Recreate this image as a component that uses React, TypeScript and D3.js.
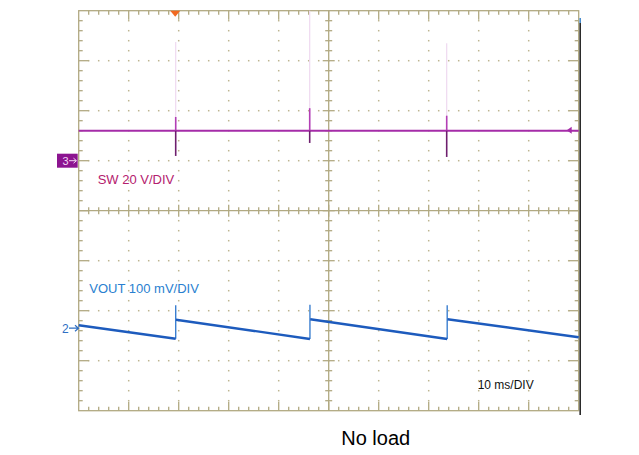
import React from "react";
import * as d3 from "d3";

// ---- data ----
// time axis: 10 ms/div, 10 divisions
const timeDomain = [0, 100];
// vertical: 8 divisions
const divDomain = [-4, 4];

// Channel 3 (SW), 20 V/div, ground marker at +1 div
const swOffsetDiv = 1;
const swVoltsPerDiv = 20;
const swBaseline = 12; // V
const swSpikeTime = [19.4, 46.2, 73.6];
const swSpikeHigh = [17.5, 21, 18];
const swSpikeLow = [1.9, 7.1, 1.5];
const swFaintHigh = [47.5, 60, 47];

// Channel 2 (VOUT), 100 mV/div, ground marker at -2.35 div
const voutOffsetDiv = -2.35;
const voutMvPerDiv = 100;
// ramp segments: [start time, start mV, end time, end mV]
const rampStartT = [0, 19.45, 46.3, 73.75];
const rampStartMv = [6, 17, 18, 18];
const rampEndT = [19.4, 46.25, 73.7, 100];
const rampEndMv = [-21, -21.5, -21.5, -18];
const jumpTime = [19.4, 46.25, 73.7];
const jumpPeakMv = [46, 47, 46];

const W = 639;
const H = 455;

const gridColor = "#b1a982";
const dotColor = "#bdb591";

export default function App() {
  const x = d3.scaleLinear().domain(timeDomain).range([78.7, 578.7]);
  const y = d3.scaleLinear().domain(divDomain).range([410.7, 10.7]);
  const ySW = (v: number) => y(swOffsetDiv + v / swVoltsPerDiv);
  const yV = (mv: number) => y(voutOffsetDiv + mv / voutMvPerDiv);

  const x0 = x(0), x1 = x(100), y0 = y(4), y1 = y(-4);
  const xc = x(50), yc = y(0);

  const minorX = d3.range(0, 100.001, 2); // every 1/5 div
  const minorY = d3.range(-4, 4.001, 0.2);
  const majorX = d3.range(10, 91, 10);
  const majorY = d3.range(-3, 3.001, 1);

  const isMajorX = (t: number) => Math.abs(t / 10 - Math.round(t / 10)) < 1e-6;
  const isMajorY = (d: number) => Math.abs(d - Math.round(d)) < 1e-6;

  const elems: React.ReactNode[] = [];

  // dots along major grid lines
  majorY.forEach((d) => {
    if (d === 0) return;
    minorX.forEach((t) => {
      if (t === 0 || t === 100) return;
      elems.push(
        <rect key={`dh${d}_${t}`} x={x(t) - 0.75} y={y(d) - 0.75} width={1.5} height={1.5} fill={dotColor} />
      );
    });
  });
  majorX.forEach((t) => {
    if (t === 50) return;
    minorY.forEach((d) => {
      if (isMajorY(d)) return;
      elems.push(
        <rect key={`dv${t}_${d.toFixed(1)}`} x={x(t) - 0.75} y={y(d) - 0.75} width={1.5} height={1.5} fill={dotColor} />
      );
    });
  });

  // border ticks
  const ticks: React.ReactNode[] = [];
  minorX.forEach((t) => {
    if (t === 0 || t === 100) return;
    const L = isMajorX(t) ? 9 : 4;
    const Lc = isMajorX(t) ? 6 : 3.5;
    ticks.push(<line key={`tt${t}`} x1={x(t)} x2={x(t)} y1={y0} y2={y0 + L} />);
    ticks.push(<line key={`tb${t}`} x1={x(t)} x2={x(t)} y1={y1} y2={y1 - L} />);
    ticks.push(<line key={`tc${t}`} x1={x(t)} x2={x(t)} y1={yc - Lc} y2={yc + Lc} />);
  });
  minorY.forEach((d) => {
    if (Math.abs(d) > 3.99) return;
    const L = isMajorY(d) ? 10 : 4;
    const Lc = isMajorY(d) ? 6 : 3.5;
    ticks.push(<line key={`tl${d.toFixed(1)}`} x1={x0} x2={x0 + L} y1={y(d)} y2={y(d)} />);
    ticks.push(<line key={`tr${d.toFixed(1)}`} x1={x1} x2={x1 - L} y1={y(d)} y2={y(d)} />);
    ticks.push(<line key={`tcv${d.toFixed(1)}`} x1={xc - Lc} x2={xc + Lc} y1={y(d)} y2={y(d)} />);
  });

  // SW trace
  const swColor = "#a52ca8";
  const swLine = d3.line<[number, number]>().x((p) => x(p[0])).y((p) => ySW(p[1]));
  const swPath = swLine([[0, swBaseline], [100, swBaseline]]);

  // VOUT ramps
  const vLine = d3.line<[number, number]>().x((p) => x(p[0])).y((p) => yV(p[1]));

  const font = "'Liberation Sans', Arial, sans-serif";

  return (
    <svg width={W} height={H} style={{ position: "absolute", left: 0, top: 0, background: "#fff" }}>
      <rect x={0} y={0} width={W} height={H} fill="#fff" />
      {elems}
      {/* border and center lines */}
      <g stroke={gridColor} strokeWidth={1.3} fill="none">
        <rect x={x0} y={y0} width={x1 - x0} height={y1 - y0} />
        <line x1={x0} x2={x1} y1={yc} y2={yc} />
        <line x1={xc} x2={xc} y1={y0} y2={y1} />
        {ticks}
      </g>
      {/* right dark edge */}
      <line x1={x1 + 1.5} x2={x1 + 1.5} y1={23} y2={415} stroke="#2b2b2b" strokeWidth={1.6} />
      <line x1={x1 + 1.5} x2={x1 + 1.5} y1={18} y2={23} stroke="#4a8ed0" strokeWidth={1.6} />

      {/* trigger marker */}
      <path d={`M${x(19.3) - 5},${y0} L${x(19.3) + 5},${y0} L${x(19.3)},${y0 + 6} Z`} fill="#f26a22" />

      {/* SW faint spikes */}
      {swSpikeTime.map((t, i) => (
        <line key={`sf${i}`} x1={x(t)} x2={x(t)} y1={ySW(swFaintHigh[i])} y2={ySW(swBaseline)} stroke="#efd9f0" strokeWidth={1.2} />
      ))}
      <path d={swPath || ""} stroke={swColor} strokeWidth={2} fill="none" />
      {swSpikeTime.map((t, i) => (
        <g key={`ss${i}`}>
          <line x1={x(t)} x2={x(t)} y1={ySW(swSpikeHigh[i])} y2={ySW(swBaseline)} stroke="#b33fb5" strokeWidth={1.6} />
          <line x1={x(t)} x2={x(t)} y1={ySW(swBaseline)} y2={ySW(swSpikeLow[i])} stroke="#6e1f6e" strokeWidth={1.6} />
        </g>
      ))}
      {/* right-side SW arrow */}
      <path d={`M${x1 - 12},${ySW(swBaseline) - 0.5} l5,-3.5 l0,7 Z`} fill={swColor} />

      {/* ch3 marker */}
      <rect x={57} y={ySW(0) - 7} width={20.7} height={14} fill="#8c1490" />
      <text x={62.5} y={ySW(0) + 4} fill="#f3d7f3" fontFamily={font} fontSize={11}>3</text>
      <path d={`M69,${ySW(0)} L76,${ySW(0)} M73.5,${ySW(0) - 2.5} L76.5,${ySW(0)} L73.5,${ySW(0) + 2.5}`} stroke="#f3d7f3" strokeWidth={1} fill="none" />

      {/* VOUT trace */}
      {jumpTime.map((t, i) => (
        <line key={`vj${i}`} x1={x(t)} x2={x(t)} y1={yV(rampEndMv[i])} y2={yV(jumpPeakMv[i])} stroke="#3b7fd0" strokeWidth={1.4} />
      ))}
      {rampStartT.map((t, i) => (
        <path
          key={`vr${i}`}
          d={vLine([[t, rampStartMv[i]], [rampEndT[i], rampEndMv[i]]]) || ""}
          stroke="#1d5bbd"
          strokeWidth={2.4}
          fill="none"
        />
      ))}

      {/* ch2 marker */}
      <text x={62} y={yV(0) + 4.5} fill="#2f6fc4" fontFamily={font} fontSize={12}>2</text>
      <path d={`M69,${yV(0)} L78,${yV(0)} M75,${yV(0) - 3} L78.5,${yV(0)} L75,${yV(0) + 3}`} stroke="#2f6fc4" strokeWidth={1.2} fill="none" />

      {/* labels */}
      <text x={97.7} y={184} fill="#b4206e" fontFamily={font} fontSize={13}>SW 20 V/DIV</text>
      <text x={89.3} y={293.3} fill="#2a7fd0" fontFamily={font} fontSize={13}>VOUT 100 mV/DIV</text>
      <text x={477.7} y={389} fill="#111" fontFamily={font} fontSize={12}>10 ms/DIV</text>
      <text x={375.7} y={445} fill="#000" fontFamily={font} fontSize={20} textAnchor="middle">No load</text>
    </svg>
  );
}
